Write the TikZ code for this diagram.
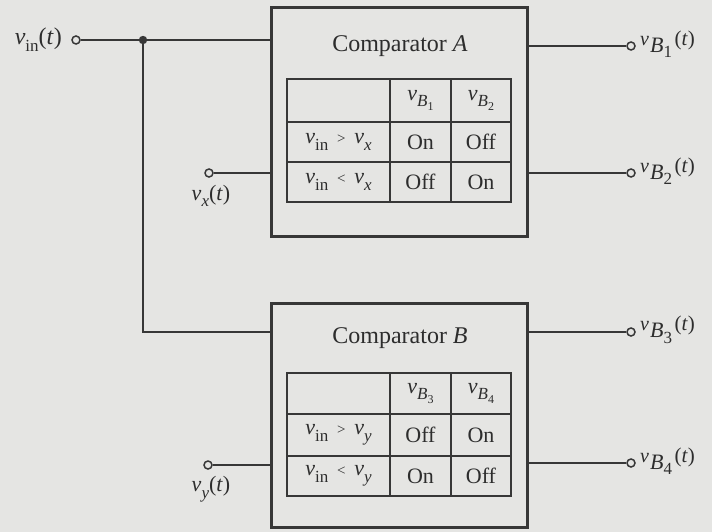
\documentclass[tikz,border=0pt]{standalone}
\usepackage{fontspec}
\setmainfont{Liberation Serif}
\definecolor{bg}{RGB}{229,229,227}
\definecolor{ln}{RGB}{55,55,55}
\definecolor{tx}{RGB}{45,45,45}
\newcommand{\fs}[1]{\fontsize{#1}{#1}\selectfont}
\newcommand{\sv}[1]{\textit{v}\raisebox{-0.3em}{\fs{17}#1}}
\newcommand{\ssub}[2]{\textit{#1}\raisebox{-0.22em}{\fs{12}#2}}
\newcommand{\rel}[1]{\hspace{0.4em}{\fs{15}#1}\hspace{0.4em}}
\newcommand{\ov}[1]{{\fs{20}\textit{v}}\raisebox{-0.32em}{\fs{22}\hspace{0.05em}\textit{B}\raisebox{-0.25em}{\fs{17}#1}}{\fs{21}\hspace{0.12em}(\textit{t})}}
\begin{document}
\begin{tikzpicture}[x=1pt,y=-1pt,
  every node/.style={text=tx, font=\fs{22}},
  wire/.style={draw=ln, line width=1.6pt},
  boxst/.style={draw=ln, line width=3pt, inner sep=0pt, fill=bg},
  tbl/.style={draw=ln, line width=1.8pt},
  term/.style={circle, draw=ln, line width=1.5pt, fill=bg, inner sep=0pt, minimum size=8pt},
  lbl/.style={inner sep=1pt}]
\fill[bg] (0,0) rectangle (712,532);
\useasboundingbox (0,0) rectangle (712,532);

% boxes
\node[boxst, minimum width=256pt, minimum height=228pt] (A) at (399,122) {};
\node[boxst, minimum width=256pt, minimum height=224pt] (B) at (399,415) {};
\node[font=\fs{24}] (tA) at (400,46) {Comparator \textit{A}};
\node[font=\fs{24}] (tB) at (400,338) {Comparator \textit{B}};

% table A
\draw[tbl] (287,79) rectangle (511,202);
\draw[tbl] (287,122) -- (511,122) (287,162) -- (511,162) (390,79) -- (390,202) (451,79) -- (451,202);
\node (a01) at (420.5,100.5) {\sv{\ssub{B}{1}}};
\node (a02) at (481,100.5) {\sv{\ssub{B}{2}}};
\node (a10) at (338.5,142) {\sv{in}\rel{>}\sv{\textit{x}}};
\node (a11) at (420.5,142) {On};
\node (a12) at (481,142) {Off};
\node (a20) at (338.5,182) {\sv{in}\rel{<}\sv{\textit{x}}};
\node (a21) at (420.5,182) {Off};
\node (a22) at (481,182) {On};

% table B
\draw[tbl] (287,373) rectangle (511,496);
\draw[tbl] (287,414) -- (511,414) (287,456) -- (511,456) (390,373) -- (390,496) (451,373) -- (451,496);
\node (b01) at (420.5,393.5) {\sv{\ssub{B}{3}}};
\node (b02) at (481,393.5) {\sv{\ssub{B}{4}}};
\node (b10) at (338.5,435) {\sv{in}\rel{>}\sv{\textit{y}}};
\node (b11) at (420.5,435) {Off};
\node (b12) at (481,435) {On};
\node (b20) at (338.5,476) {\sv{in}\rel{<}\sv{\textit{y}}};
\node (b21) at (420.5,476) {On};
\node (b22) at (481,476) {Off};

% pins on boxes
\coordinate (Ain) at (271,40);
\coordinate (Ax) at (271,173);
\coordinate (Bin) at (271,332);
\coordinate (By) at (271,465);
\coordinate (Ao1) at (527,46);
\coordinate (Ao2) at (527,173);
\coordinate (Bo3) at (527,332);
\coordinate (Bo4) at (527,463);

% terminals
\node[term] (vin) at (76,40) {};
\node[term] (vx) at (209,173) {};
\node[term] (vy) at (208,465) {};
\node[term] (o1) at (631,46) {};
\node[term] (o2) at (631,173) {};
\node[term] (o3) at (631,332) {};
\node[term] (o4) at (631,463) {};
\coordinate (J) at (143,40);

% wires
\draw[wire] (vin) -- (J) -- (Ain);
\draw[wire] (J) |- (Bin);
\fill[ln] (J) circle (4.2pt);
\draw[wire] (vx) -- (Ax);
\draw[wire] (vy) -- (By);
\draw[wire] (Ao1) -- (o1);
\draw[wire] (Ao2) -- (o2);
\draw[wire] (Bo3) -- (o3);
\draw[wire] (Bo4) -- (o4);

% labels
\node[lbl, anchor=east, font=\fs{24}] (Lin) at (63,40) {\sv{in}(\textit{t})};
\node[lbl] (Lx) at (211,196) {\sv{\textit{x}}(\textit{t})};
\node[lbl] (Ly) at (211,489) {\sv{\textit{y}}(\textit{t})};
\node[lbl, anchor=west] (L1) at (639,44) {\ov{1}};
\node[lbl, anchor=west] (L2) at (639,171) {\ov{2}};
\node[lbl, anchor=west] (L3) at (639,330) {\ov{3}};
\node[lbl, anchor=west] (L4) at (639,461) {\ov{4}};
\end{tikzpicture}
\end{document}
